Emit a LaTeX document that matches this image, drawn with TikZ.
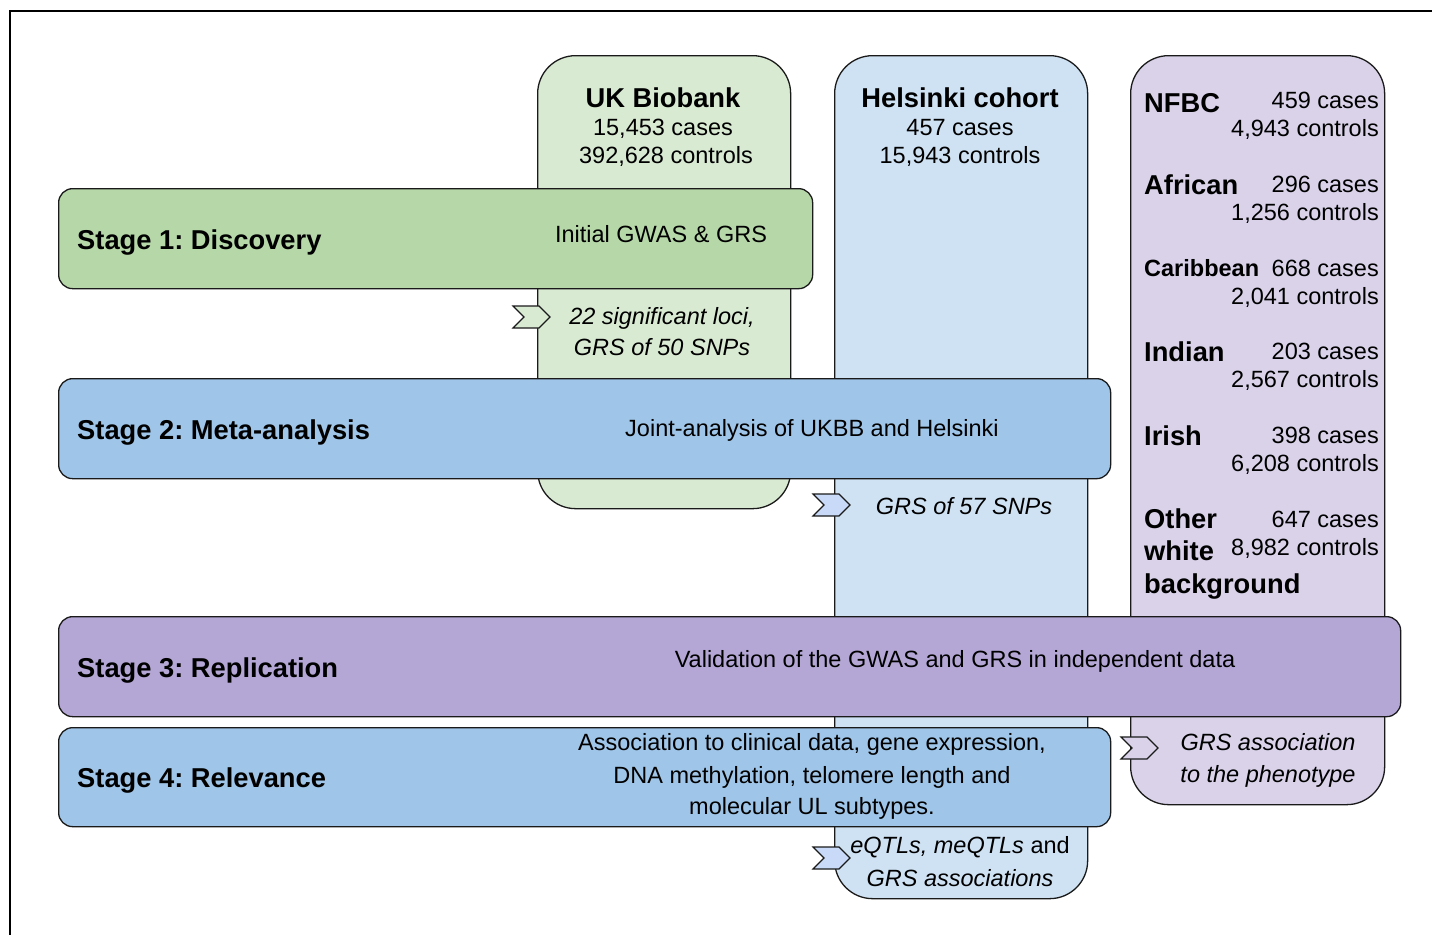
\documentclass[tikz,border=0pt]{standalone}
\usepackage{fontspec}
\setmainfont{Liberation Sans}
\usetikzlibrary{shapes.symbols}
\definecolor{ukcol}{HTML}{D9EAD3}
\definecolor{stgreen}{HTML}{B6D7A8}
\definecolor{hecol}{HTML}{CFE2F3}
\definecolor{stblue}{HTML}{9FC5E8}
\definecolor{nfcol}{HTML}{D9D2E9}
\definecolor{stpurple}{HTML}{B4A7D6}
\definecolor{chblue}{HTML}{C9DAF8}
\definecolor{edge}{HTML}{1A1A1A}
\frenchspacing
\tikzset{
  colbox/.style={draw=edge, line width=1.3pt, rounded corners=38pt, anchor=north west, inner sep=0pt},
  stagebox/.style={draw=edge, line width=1.3pt, rounded corners=14pt, anchor=north west, inner sep=0pt, minimum height=100pt},
  body/.style={font=\fontsize{23.5}{28}\selectfont, inner sep=0pt, anchor=base},
  bodyr/.style={body, anchor=base east},
  bodyi/.style={font=\fontsize{23.5}{28}\selectfont\itshape, inner sep=0pt, anchor=base},
  head/.style={font=\fontsize{27.3}{32}\selectfont\bfseries, inner sep=0pt, anchor=base},
  headl/.style={head, anchor=base west},
  chev/.style={signal, signal from=west, signal to=east, signal pointer angle=90, draw=edge, line width=1.1pt, minimum width=37pt, minimum height=22pt, inner sep=0pt},
}
\begin{document}
\begin{tikzpicture}[x=1pt,y=-1pt]
\useasboundingbox (0,0) rectangle (1432,935);
% frame
\draw[line width=1.3pt] (1432,11) -- (10,11) -- (10,935);
% columns
\node[colbox, fill=ukcol, minimum width=253pt, minimum height=453pt] (ukb) at (537,55) {};
\node[colbox, fill=hecol, minimum width=253pt, minimum height=843pt] (hel) at (834,55) {};
\node[colbox, fill=nfcol, minimum width=254pt, minimum height=749pt] (nfbc) at (1130,55) {};
% stages
\node[stagebox, fill=stgreen, minimum width=754pt] (s1) at (58,188) {};
\node[stagebox, fill=stblue, minimum width=1052pt] (s2) at (58,378) {};
\node[stagebox, fill=stpurple, minimum width=1342pt] (s3) at (58,616) {};
\node[stagebox, fill=stblue, minimum width=1052pt, minimum height=99pt] (s4) at (58,727) {};
% column headers
\node[head] (ukt) at (663,107) {UK Biobank};
\node[body] (ukc1) at (663,135) {15,453 cases};
\node[body] (ukc2) at (666,163) {392,628 controls};
\node[head] (het) at (960,107) {Helsinki cohort};
\node[body] (hec1) at (960,135) {457 cases};
\node[body] (hec2) at (960,163) {15,943 controls};
% NFBC column
\node[headl] (n1) at (1144,112) {NFBC};
\node[bodyr] (n1a) at (1379,108) {459 cases};
\node[bodyr] (n1b) at (1379,136) {4,943 controls};
\node[headl] (n2) at (1144,194) {African};
\node[bodyr] (n2a) at (1379,192) {296 cases};
\node[bodyr] (n2b) at (1379,220) {1,256 controls};
\node[body, anchor=base west, font=\fontsize{23.5}{28}\selectfont\bfseries] (n3) at (1144,276) {Caribbean};
\node[bodyr] (n3a) at (1379,276) {668 cases};
\node[bodyr] (n3b) at (1379,304) {2,041 controls};
\node[headl] (n4) at (1144,361) {Indian};
\node[bodyr] (n4a) at (1379,359) {203 cases};
\node[bodyr] (n4b) at (1379,387) {2,567 controls};
\node[headl] (n5) at (1144,445) {Irish};
\node[bodyr] (n5a) at (1379,443) {398 cases};
\node[bodyr] (n5b) at (1379,471) {6,208 controls};
\node[headl] (n6) at (1144,528) {Other};
\node[headl] (n6w) at (1144,560) {white};
\node[headl] (n6b) at (1144,593) {background};
\node[bodyr] (n6x) at (1379,527) {647 cases};
\node[bodyr] (n6y) at (1379,555) {8,982 controls};
% stage labels
\node[headl] (l1) at (77,249) {Stage 1: Discovery};
\node[headl] (l2) at (77,439) {Stage 2: Meta-analysis};
\node[headl] (l3) at (77,677) {Stage 3: Replication};
\node[headl] (l4) at (77,787) {Stage 4: Relevance};
% stage descriptions
\node[body] (d1) at (661,242) {Initial GWAS \& GRS};
\node[body] (d2) at (812,436) {Joint-analysis of UKBB and Helsinki};
\node[body] (d3) at (955,667) {Validation of the GWAS and GRS in independent data};
\node[body] (d4a) at (812,750) {Association to clinical data, gene expression,};
\node[body] (d4b) at (812,783) {DNA methylation, telomere length and};
\node[body] (d4c) at (812,814) {molecular UL subtypes.};
% results
\node[bodyi] (r1a) at (662,324) {22 significant loci,};
\node[bodyi] (r1b) at (662,355) {GRS of 50 SNPs};
\node[bodyi] (r2) at (964,514) {GRS of 57 SNPs};
\node[bodyi] (r3a) at (1268,750) {GRS association};
\node[bodyi] (r3b) at (1268,782) {to the phenotype};
\node[body] (r4a) at (960,853) {\itshape eQTLs, meQTLs\upshape{} and};
\node[bodyi] (r4b) at (960,886) {GRS associations};
% chevrons
\node[chev, fill=ukcol] (c1) at (531.5,317) {};
\node[chev, fill=chblue] (c2) at (831.5,505) {};
\node[chev, fill=nfcol] (c3) at (1139.5,748) {};
\node[chev, fill=chblue] (c4) at (831.5,858) {};
\end{tikzpicture}
\end{document}
